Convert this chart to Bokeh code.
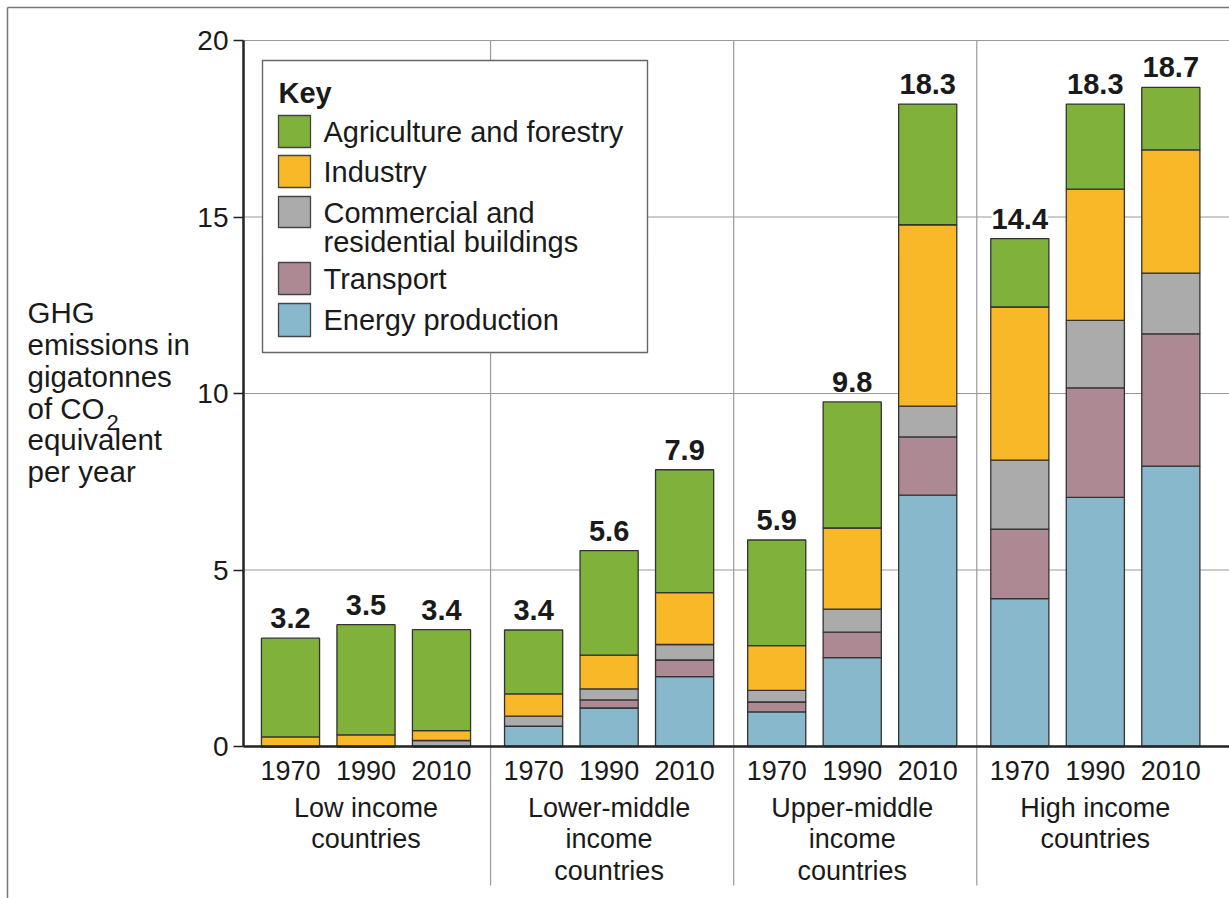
from bokeh.plotting import figure
from bokeh.models import ColumnDataSource, Range1d, FixedTicker
from bokeh.core.properties import value
from bokeh.embed import file_html
from bokeh.resources import INLINE

# ---------------- data ----------------
groups = ["Low income\ncountries", "Lower-middle\nincome\ncountries",
          "Upper-middle\nincome\ncountries", "High income\ncountries"]
years = ["1970", "1990", "2010"]
sectors = ["Energy production", "Transport", "Commercial and\nresidential buildings",
           "Industry", "Agriculture and forestry"]
energy = [0.0, 0.0, 0.0, 0.58, 1.09, 1.98, 0.98, 2.52, 7.12, 4.19, 7.06, 7.94]
transport = [0.0, 0.0, 0.0, 0.0, 0.23, 0.47, 0.28, 0.72, 1.65, 1.97, 3.10, 3.75]
commercial = [0.0, 0.0, 0.17, 0.28, 0.31, 0.44, 0.33, 0.65, 0.87, 1.95, 1.91, 1.72]
industry = [0.27, 0.33, 0.28, 0.63, 0.96, 1.47, 1.27, 2.30, 5.14, 4.34, 3.72, 3.49]
agriculture = [2.80, 3.12, 2.86, 1.81, 2.96, 3.48, 2.99, 3.57, 3.42, 1.94, 2.41, 1.77]
total_labels = ["3.2", "3.5", "3.4", "3.4", "5.6", "7.9", "5.9", "9.8", "18.3",
                "14.4", "18.3", "18.7"]
y_ticks = [0, 5, 10, 15, 20]
y_title = ["GHG", "emissions in", "gigatonnes", "of CO", "equivalent", "per year"]

# ---------------- styling / layout ----------------
colors = ["#87b8cc", "#ad8a93", "#ababab", "#f8b828", "#80b23b"]
FONT = "Liberation Sans"
INK = "#1a1a1a"
GRID = "#9a9a9a"
GROUP_STEP = 3.22
BAR_W = 0.77

# pixel <-> data helpers (canvas pixels)
PX_X0, PX_PER_X = 290.0, 75.5
PX_Y0, PX_PER_Y = 746.0, 35.3


def X(px):
    return (px - PX_X0) / PX_PER_X


def Y(py):
    return (PX_Y0 - py) / PX_PER_Y


W, H = 1229, 898
AXIS_PX = 243
p = figure(width=W, height=H, output_backend="svg", toolbar_location=None,
           x_range=Range1d(X(0), X(W)), y_range=Range1d(Y(H), Y(0)),
           x_axis_location=None, min_border_left=0, min_border_right=0,
           min_border_top=0, min_border_bottom=0)
p.outline_line_color = None
p.background_fill_color = "white"
p.border_fill_color = "white"
p.xgrid.visible = False
p.ygrid.visible = False

# outer picture frame (left and top edges)
p.segment(x0=[X(7), X(7)], x1=[X(7), X(W)], y0=[Y(7), Y(7)], y1=[Y(H), Y(7)],
          line_color="#777777", line_width=1.5)

# horizontal grid lines starting at the axis
grid_y = [t for t in y_ticks if t > 0]
p.segment(x0=[X(AXIS_PX)] * len(grid_y), x1=[X(W)] * len(grid_y),
          y0=grid_y, y1=grid_y, line_color=GRID, line_width=1.2)

# positions
xs = [g * GROUP_STEP + i for g in range(len(groups)) for i in range(len(years))]
src = ColumnDataSource(dict(x=xs, e=energy, t=transport, c=commercial,
                            i=industry, a=agriculture))

# group separators
sep_x = [g * GROUP_STEP + 2.65 for g in range(len(groups) - 1)]
p.segment(x0=sep_x, x1=sep_x, y0=[20] * 3, y1=[Y(885)] * 3,
          line_color=GRID, line_width=1.2)

# bars
p.vbar_stack(["e", "t", "c", "i", "a"], x="x", width=BAR_W, source=src,
             fill_color=colors, line_color="#333333", line_width=1.3)

# x axis line at 0
p.segment(x0=[X(AXIS_PX)], x1=[X(W)], y0=[0], y1=[0],
          line_color="#222222", line_width=2.5)

# y axis placed at the axis position inside the frame
ax = p.yaxis[0]
ax.fixed_location = X(AXIS_PX)
ax.ticker = FixedTicker(ticks=y_ticks)
ax.bounds = (0, 20)
ax.axis_line_color = "#222222"
ax.axis_line_width = 2.5
ax.major_tick_out = 10
ax.major_tick_in = 0
ax.major_tick_line_color = "#222222"
ax.major_tick_line_width = 1.5
ax.minor_tick_line_color = None
ax.major_label_standoff = 5
ax.major_label_text_font = FONT
ax.major_label_text_font_size = "28px"
ax.major_label_text_color = INK

# totals above bars
tops = [energy[k] + transport[k] + commercial[k] + industry[k] + agriculture[k]
        for k in range(len(xs))]
p.text(x=xs, y=[t + 20 / PX_PER_Y for t in tops], text=total_labels,
       text_align="center", text_baseline="middle", text_font=value(FONT),
       text_font_size="29px", text_font_style="bold", text_color=INK,
       background_fill_color="white")

# year labels
p.text(x=xs, y=[Y(770)] * len(xs), text=years * len(groups),
       text_align="center", text_baseline="middle", text_font=value(FONT),
       text_font_size="27px", text_color=INK)

# group labels
gx = [g * GROUP_STEP + 1 for g in range(len(groups))]
p.text(x=gx, y=[Y(792)] * len(groups), text=groups, text_align="center",
       text_baseline="top", text_font=value(FONT), text_font_size="27px",
       text_color=INK, text_line_height=1.05)

# legend (key) box
p.quad(left=[X(262)], right=[X(647)], top=[Y(60)], bottom=[Y(352)],
       fill_color="white", line_color="#666666", line_width=1.4)
p.text(x=[X(278)], y=[Y(92)], text=["Key"], text_baseline="middle",
       text_font=value(FONT), text_font_size="29px", text_font_style="bold",
       text_color=INK)
leg_order = [4, 3, 2, 1, 0]
sw_rows = [(115, 147), (155, 187), (196, 227), (262, 294), (303, 336)]
txt_y = [131, 171, 227, 278, 319]
p.quad(left=[X(278)] * 5, right=[X(310)] * 5,
       top=[Y(r[0]) for r in sw_rows], bottom=[Y(r[1]) for r in sw_rows],
       fill_color=[colors[k] for k in leg_order], line_color="#444444",
       line_width=1.3)
p.text(x=[X(323)] * 5, y=[Y(v) for v in txt_y],
       text=[sectors[k] for k in leg_order], text_baseline="middle",
       text_font=value(FONT), text_font_size="29px", text_color=INK,
       text_line_height=0.93)

# y axis title (multi-line, horizontal)
ylab_y = [312, 344, 376, 408, 439, 471]
p.text(x=[X(27)] * len(y_title), y=[Y(v) for v in ylab_y], text=y_title,
       text_baseline="middle", text_font=value(FONT), text_font_size="29.5px",
       text_color=INK)
p.text(x=[X(106)], y=[Y(422)], text=["2"], text_baseline="middle",
       text_font=value(FONT), text_font_size="22px", text_color=INK)

open("out.html", "w").write(file_html(p, INLINE))
